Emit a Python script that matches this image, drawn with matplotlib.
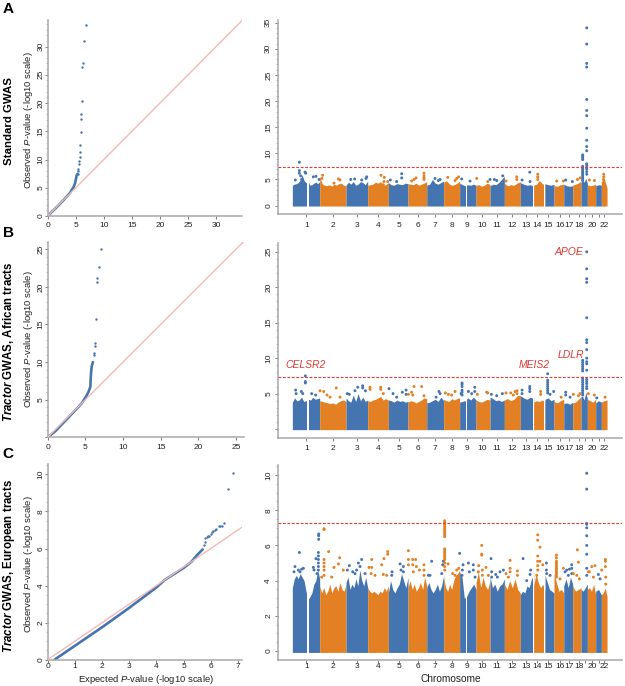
import numpy as np
import matplotlib
matplotlib.use("Agg")
import matplotlib.pyplot as plt

plt.rcParams["font.family"] = ["Liberation Sans", "DejaVu Sans"]
plt.rcParams["mathtext.fontset"] = "custom"
plt.rcParams["mathtext.rm"] = "Liberation Sans"
plt.rcParams["mathtext.it"] = "Liberation Sans:italic"
plt.rcParams["mathtext.bf"] = "Liberation Sans:bold"
plt.rcParams["mathtext.bfit"] = "Liberation Sans:italic:bold"

BLUE = "#4575b0"
ORANGE = "#e38024"
PINK = "#f3b9b2"
RED = "#df3a34"
GREY = "#a8a8a8"
TEXT = "#222222"

W, H = 625, 686

# chromosome layout on the shared x axis (approx. Mb)
chrom_edges = [0, 250, 491, 689, 878, 1058, 1229, 1384, 1530, 1680, 1808, 1939,
               2085, 2207, 2311, 2393, 2482, 2564, 2640, 2698, 2774, 2826, 2878]
chrom_ticks = [128, 369, 594, 786, 976, 1146, 1305, 1460, 1597, 1738, 1872, 2012,
               2134, 2241, 2341, 2445, 2531, 2619, 2677, 2741, 2808, 2854]
chrom_labels = ["1", "2", "3", "4", "5", "6", "7", "8", "9", "10", "11", "12", "13",
                "14", "15", "16", "17", "18", "", "20", "", "22"]
gaps = [(134, 149), (1585, 1600), (2201, 2207), (2305, 2311)]

# QQ curves
qq_a_x = [0, 1, 2, 3, 4, 4.27, 4.6, 4.87, 5.0, 5.16, 5.3]
qq_a_y = [0, 0.98, 1.95, 3.0, 4.1, 4.6, 5.1, 5.8, 6.4, 7.2, 7.45]
qq_a_dx = [5.34, 5.4, 5.46, 5.52, 5.58, 5.7, 5.76, 5.76, 5.87, 5.93, 6.0, 6.05, 6.11, 6.23, 6.47, 6.77]
qq_a_dy = [7.45, 8.0, 8.4, 9.2, 9.75, 10.5, 11.3, 12.5, 14.8, 17.2, 18.1, 20.3, 26.4, 27.1, 30.9, 33.8]

qq_b_x = [0, 1, 2, 3, 4, 4.5, 5.09, 5.4, 5.66, 5.7, 5.75, 5.84, 6.0]
qq_b_y = [0, 0.8, 1.85, 2.9, 3.95, 4.5, 5.4, 6.0, 6.7, 7.6, 8.5, 9.4, 10.0]
qq_b_dx = [6.1, 6.2, 6.28, 6.33, 6.42, 6.5, 6.6, 6.77, 7.08]
qq_b_dy = [11.0, 11.2, 12.2, 12.6, 15.7, 20.7, 21.2, 22.6, 25.0]

qq_c_x = [0.25, 1, 2, 3, 4, 4.3, 5.0, 5.3, 5.5, 5.7]
qq_c_y = [0, 0.75, 1.75, 2.8, 3.9, 4.3, 4.95, 5.3, 5.65, 5.95]
qq_c_dx = [5.75, 5.78, 5.8, 5.85, 5.9, 5.95, 6.0, 6.05, 6.1, 6.15, 6.2, 6.3, 6.35, 6.4, 6.5, 6.65, 6.83]
qq_c_dy = [6.2, 6.35, 6.55, 6.6, 6.65, 6.7, 6.8, 6.88, 6.95, 7.02, 7.05, 7.2, 7.22, 7.22, 7.35, 9.2, 10.1]

# top of the solid part of each chromosome
env_a = [
    [3.9, 4.1, 4.2, 4.4, 4.9, 5.9, 4.8, 4.4, 4.6, 3.9, 4.0, 4.3, 4.5, 4.2, 4.6],
    [5.6, 4.2, 3.9, 3.8, 4.0, 3.7, 4.1, 3.9, 4.2, 4.3, 3.9, 3.8],
    [3.9, 4.5, 4.1, 4.6, 3.9, 4.1, 4.6, 4.4, 4.0, 4.7],
    [3.9, 4.0, 4.1, 4.5, 4.3, 4.6, 3.9, 4.0, 4.4],
    [4.4, 4.0, 3.9, 4.2, 4.1, 4.0, 4.3, 4.2],
    [4.2, 4.1, 4.0, 4.3, 3.9, 4.1, 4.3, 4.6],
    [3.9, 4.1, 5.0, 4.3, 4.1, 4.4, 4.7],
    [4.4, 4.8, 4.2, 3.9, 4.0, 4.3, 4.7],
    [4.3, 4.0, 3.8, 4.0, 3.9, 4.1, 3.9],
    [3.9, 4.0, 3.7, 3.9, 4.3, 4.0],
    [3.8, 4.1, 4.0, 4.4, 5.0, 5.6],
    [4.3, 3.8, 4.0, 3.9, 4.3, 4.6],
    [4.4, 4.1, 3.9, 4.0, 3.7],
    [3.9, 4.1, 4.8, 4.2, 4.0],
    [4.2, 4.0, 3.9, 4.1],
    [3.8, 3.7, 4.0, 4.1],
    [4.1, 3.8, 3.7, 3.8],
    [3.9, 4.1, 4.3, 4.7],
    [4.4, 4.8, 4.5, 5.2, 4.3],
    [4.0, 3.8, 3.9, 4.1],
    [3.8, 4.0, 3.9],
    [4.6, 5.2, 3.4],
]
env_b = [
    [3.8, 4.4, 4.0, 4.1, 4.5, 3.9, 4.0, 4.2, 4.1, 4.5, 4.2, 4.3, 4.4],
    [4.0, 3.9, 3.8, 3.7, 3.6, 3.7, 3.5, 3.8, 4.0, 4.1, 3.9],
    [4.4, 4.0, 3.8, 4.8, 3.9, 5.0, 4.0, 4.5, 3.9, 4.1],
    [4.0, 3.9, 4.1, 4.2, 4.4, 4.6, 4.1, 4.3, 4.1],
    [4.1, 4.0, 3.8, 4.1, 3.9, 4.0, 3.8, 3.9],
    [3.8, 4.0, 3.9, 3.7, 3.9, 4.1, 4.4, 4.3],
    [3.7, 3.8, 4.0, 4.2, 3.9, 4.5, 4.0],
    [4.2, 4.0, 3.9, 4.3, 4.1, 4.3, 4.4],
    [3.8, 3.9, 4.0, 4.4, 4.1, 4.5, 4.1],
    [4.1, 3.9, 3.8, 4.0, 4.2, 4.1],
    [4.5, 4.3, 4.0, 4.1, 3.9, 4.1],
    [4.1, 4.3, 4.0, 4.2, 4.7, 4.8],
    [4.7, 4.4, 4.2, 4.5, 4.3],
    [3.8, 4.0, 3.9, 4.1, 3.9],
    [4.2, 4.4, 4.0, 4.2],
    [3.9, 3.7, 4.0, 4.2],
    [3.6, 3.7, 3.5, 3.8],
    [3.7, 3.8, 4.2, 4.5],
    [4.6, 4.6, 4.1, 5.2, 4.3],
    [4.2, 4.0, 3.8, 4.2],
    [3.7, 4.0, 3.8],
    [3.8, 4.0, 4.1],
]
env_c = [
    [3.6, 4.1, 4.3, 4.1, 4.4, 4.2, 4.0, 3.4, 2.9, 3.1, 3.3, 3.8, 4.0, 4.6, 4.1],
    [3.7, 3.3, 3.6, 3.2, 3.4, 3.8, 3.3, 3.6, 3.7, 3.4, 3.9, 3.5, 3.4, 3.8],
    [3.9, 4.2, 3.5, 3.8, 3.6, 4.1, 3.7, 4.6, 4.0, 3.7, 4.2, 3.6],
    [3.6, 3.4, 3.3, 3.4, 3.3, 3.2, 3.4, 3.3, 3.6, 3.4, 3.7],
    [3.3, 4.0, 3.5, 3.3, 3.6, 3.8, 4.4, 4.0, 3.6, 4.2],
    [3.6, 4.0, 3.5, 3.8, 3.4, 3.6, 3.9, 3.5, 4.2, 3.7],
    [3.6, 3.9, 3.5, 3.3, 3.5, 3.8, 3.4, 3.7, 4.3],
    [4.2, 3.6, 3.4, 3.8, 3.5, 4.0, 4.3, 4.4, 4.6],
    [4.5, 4.2, 3.0, 3.1, 3.4, 3.6, 3.8, 3.5],
    [3.9, 4.5, 3.6, 4.2, 3.7, 3.5, 4.0],
    [4.2, 3.6, 3.8, 3.4, 3.7, 3.8, 4.1],
    [3.8, 3.5, 4.0, 3.6, 4.1, 3.5, 3.3],
    [3.2, 3.4, 3.3, 3.7, 3.6, 4.1, 4.3],
    [3.7, 4.4, 3.9, 3.6, 3.8, 3.4],
    [4.3, 3.9, 3.5, 3.4, 3.3],
    [4.4, 3.9, 3.4, 3.5, 3.3],
    [3.7, 4.1, 3.6, 4.2, 3.8],
    [3.7, 3.4, 3.5, 3.6],
    [3.5, 3.4, 3.6, 3.8],
    [3.5, 3.6, 3.4, 3.8, 3.2],
    [3.4, 3.5, 3.2],
    [3.2, 3.3, 3.6, 3.1],
]

# individual points above the solid part
hits_a_x = [64, 64, 64, 76, 116, 122, 27, 85, 216, 192, 244, 277, 271, 421, 436, 381,
            534, 570, 680, 674, 634, 811, 841, 838, 872, 832, 1000, 1000, 896, 954,
            1131, 1113, 1204, 1204, 1204, 1204, 1091, 1305, 1351, 1335, 1421, 1521,
            1503, 1488, 1549, 1625, 1686, 1808, 1787, 1848, 1869, 1924, 2052, 2052,
            1954, 2171, 2101, 2174, 2244, 2244, 2244, 2418, 2479, 2500, 2561, 2631, 2607,
            2655, 2655, 2655, 2655, 2655, 2655, 2655, 2655, 2655, 2655, 2655, 2655, 2655, 2655,
            2692, 2692, 2692, 2692, 2692, 2692, 2692, 2692, 2692,
            2692, 2692, 2692, 2692, 2692, 2692, 2692, 2692, 2716, 2762, 2848, 2848, 2845]
hits_a_y = [8.3, 6.7, 6.2, 5.7, 6.4, 6.2, 4.9, 5.0, 5.6, 5.5, 5.0, 5.8, 5.2, 5.1, 4.9, 4.3,
            5.0, 5.1, 5.5, 5.2, 4.9, 5.8, 5.4, 4.6, 4.6, 4.0, 6.1, 5.3, 4.9, 4.6,
            5.3, 5.0, 6.2, 5.7, 5.3, 5.0, 4.7, 5.2, 5.0, 4.8, 5.4, 5.5,
            5.2, 4.8, 5.1, 4.7, 5.2, 5.0, 4.6, 5.0, 4.8, 5.7, 5.5, 5.0,
            4.7, 6.4, 4.9, 4.6, 6.0, 5.5, 5.0, 4.7, 4.7, 4.9, 4.6, 5.3, 5.0,
            9.7, 9.4, 9.1, 8.8, 7.5, 7.2, 6.9, 6.6, 6.3, 6.0, 5.7, 5.4, 5.1, 4.8,
            34.0, 30.9, 27.2, 26.5, 20.3, 18.2, 17.2, 14.8, 12.5,
            11.3, 10.5, 8.0, 7.7, 7.3, 7.0, 6.5, 6.0, 4.9, 4.8, 6.0, 5.5, 5.0]

hits_b_x = [119, 119, 119, 30, 82, 34, 95, 177, 253, 213, 287, 402, 317, 345, 436, 598, 643,
            643, 668, 573, 503, 521, 710, 710, 808, 808, 884, 832, 921, 1040, 1006, 1040, 1061,
            954, 1113, 1183, 1091, 1101, 1204, 1341, 1351, 1314, 1488, 1399, 1427, 1543, 1457,
            1552, 1552, 1552, 1552, 1552, 1552, 1610, 1640, 1668, 1668, 1777, 1787, 1692, 1820,
            1921, 1869, 1954, 1997, 2037, 2055, 2055, 2021, 2171, 2171, 2101, 2171, 2101, 2271,
            2271, 2335, 2335, 2335, 2335, 2335, 2335, 2335, 2335, 2390, 2357, 2458, 2500, 2500,
            2540, 2570, 2616, 2631, 2655, 2655, 2655, 2655, 2655, 2655, 2655, 2655, 2655, 2655,
            2655, 2655, 2655, 2655, 2655,
            2692, 2692, 2692, 2692, 2692, 2692, 2692, 2692, 2692, 2692, 2692, 2692, 2692, 2692,
            2692, 2692, 2692, 2707, 2762, 2784, 2860]
hits_b_y = [7.5, 6.7, 6.5, 5.5, 5.3, 5.0, 5.0, 5.0, 5.4, 4.8, 5.3, 5.8, 4.8, 4.5, 4.5, 5.9, 6.1,
            5.8, 5.4, 5.4, 5.0, 4.9, 5.9, 5.6, 5.9, 5.6, 5.7, 5.0, 5.0, 5.5, 5.2, 4.9, 4.9,
            4.5, 6.0, 6.0, 5.2, 4.8, 4.7, 5.3, 5.0, 4.5, 5.3, 5.1, 4.9, 5.0, 4.8,
            6.5, 6.3, 6.0, 5.5, 5.2, 4.8, 5.3, 5.0, 5.9, 5.3, 5.2, 5.1, 4.9, 4.9,
            5.0, 4.7, 5.1, 5.1, 5.3, 5.4, 5.0, 4.8, 6.0, 5.7, 5.5, 5.3, 5.0, 5.3,
            4.9, 7.8, 6.9, 6.6, 6.3, 6.0, 5.7, 5.4, 5.1, 5.3, 4.9, 4.5, 5.2, 4.8,
            4.5, 4.9, 4.7, 5.0, 9.7, 9.4, 9.1, 8.8, 8.5, 8.2, 7.2, 6.9, 6.6, 6.3,
            6.0, 5.7, 5.4, 5.1, 4.8,
            25.0, 22.6, 21.2, 20.7, 15.7, 12.6, 12.2, 11.2, 10.0, 9.5, 9.2, 8.3, 7.0, 6.7,
            6.4, 6.0, 5.7, 5.0, 4.8, 4.4, 4.5]

hits_c_x = [64, 24, 15, 85, 101, 55, 70, 238, 238, 238, 238, 238, 238, 241, 241, 241, 216, 192,
            198, 226, 290, 290, 290, 290, 290, 290, 290, 332, 433, 421, 381, 466, 268, 360,
            634, 521, 604, 619, 588, 503, 552, 665, 573, 726, 701, 726, 838, 817, 872, 872,
            720, 756, 832, 863, 1061, 985, 1015, 912, 994, 1015, 909, 1061, 1061, 1101, 1128,
            1101, 1204, 1204, 1204, 1162, 1134, 1107, 1274, 1381, 1375, 1366, 1244, 1259,
            1393, 1393, 1393, 1393, 1393, 1393, 1393, 1393, 1393, 1393, 1393, 1393, 1393, 1393,
            1393, 1393, 1393, 1393, 1393, 1393, 1424, 1530, 1521, 1503, 1466, 1488,
            1561, 1555, 1552, 1610, 1655, 1655, 1619, 1671, 1732, 1732, 1732, 1704, 1771, 1738,
            1738, 1701, 1793, 1817, 1823, 1823, 1860, 1899, 1930, 1875, 1991, 1991, 1991, 1954,
            2058, 2058, 1976, 2110, 2180, 2174, 2143, 2244, 2244, 2265, 2244, 2244, 2244, 2265,
            2290, 2244, 2235, 2323, 2323, 2357, 2326, 2415, 2415, 2415, 2415, 2415, 2415, 2415,
            2415, 2415, 2415, 2415, 2415, 2448, 2479, 2509, 2534, 2555, 2555, 2494, 2524, 2555,
            2607, 2616, 2570, 2601, 2625, 2692, 2692, 2692, 2692, 2692, 2692, 2692, 2692, 2692,
            2692, 2707, 2738, 2768, 2716, 2753, 2799, 2814, 2863, 2863, 2863, 2829, 2866, 2866]
hits_c_y = [5.6, 4.8, 4.5, 4.65, 4.7, 4.6, 4.5, 5.6, 5.4, 5.2, 5.0, 4.8, 4.6, 6.65, 6.55, 6.35, 5.25, 4.75,
            4.6, 4.4, 6.95, 6.9, 5.2, 5.0, 4.8, 4.6, 4.3, 5.65, 5.3, 4.95, 4.75, 4.6, 4.2, 4.2,
            5.2, 4.85, 5.0, 4.8, 4.6, 4.6, 4.5, 4.4, 4.4, 5.2, 4.75, 4.75, 5.25, 4.9, 5.65, 5.5,
            4.4, 4.3, 4.35, 4.3, 5.7, 4.95, 4.8, 4.5, 4.6, 4.5, 4.3, 5.2, 4.9, 5.2, 5.2,
            4.9, 4.9, 4.6, 4.3, 4.6, 4.8, 4.5, 5.1, 5.1, 4.9, 4.4, 4.3, 4.3,
            7.4, 7.3, 7.2, 7.1, 7.0, 6.9, 6.8, 6.7, 6.6, 6.5, 5.8, 5.7, 5.6, 5.5,
            5.4, 5.3, 5.2, 5.0, 4.8, 4.6, 4.95, 5.55, 4.7, 4.6, 4.4, 4.3,
            4.9, 4.6, 4.3, 5.0, 4.9, 4.6, 4.5, 4.2, 6.0, 5.5, 5.45, 4.85, 4.75, 4.6,
            4.3, 4.5, 4.3, 5.25, 4.5, 4.2, 4.35, 4.5, 4.6, 4.2, 5.15, 4.7, 4.5, 4.4,
            4.55, 4.3, 4.2, 5.25, 4.6, 4.35, 4.0, 6.6, 6.3, 5.9, 5.4, 5.1, 4.85, 5.1,
            4.9, 4.6, 4.3, 5.0, 4.6, 4.3, 4.4, 5.45, 5.3, 5.1, 5.0, 4.9, 4.8, 4.7,
            4.6, 4.5, 4.4, 4.3, 4.2, 4.1, 4.7, 4.6, 4.65, 4.9, 4.7, 4.5, 4.3, 4.4,
            5.75, 5.05, 4.4, 4.3, 4.1, 10.1, 9.2, 7.25, 7.2, 7.0, 6.55, 6.0, 5.5, 4.7,
            4.3, 4.5, 4.8, 4.85, 4.5, 4.2, 4.35, 4.1, 5.2, 5.1, 4.8, 4.6, 4.2, 3.8]

gene_names = ["CELSR2", "MEIS2", "LDLR", "APOE"]
gene_x = [125, 2215, 2550, 2525]
gene_y = [9.0, 9.0, 10.5, 25.0]

threshold = 7.3


def make_axes(fig, left, right, bottom, top):
    # positions given in image pixels, y counted from the top
    return fig.add_axes([left / W, 1 - bottom / H, (right - left) / W, (bottom - top) / H])


def style_axes(ax, xticks, yticks, yminor, ylabels, xpad, ypad):
    for side in ["top", "right"]:
        ax.spines[side].set_visible(False)
    for side in ["left", "bottom"]:
        ax.spines[side].set_color(GREY)
        ax.spines[side].set_linewidth(1.1)
    ax.set_xticks(xticks)
    ax.set_yticks(yticks)
    if ylabels is not None:
        ax.set_yticklabels(ylabels)
    ax.set_yticks(yminor, minor=True)
    ax.tick_params(axis="both", which="major", length=2, width=0.6, color="#666666",
                   labelsize=6, labelcolor=TEXT)
    ax.tick_params(axis="x", which="major", pad=xpad)
    ax.tick_params(axis="y", which="major", pad=ypad)
    ax.tick_params(axis="y", which="minor", length=1.2, width=0.5, color=GREY)
    for lab in ax.get_yticklabels():
        lab.set_rotation(90)
        lab.set_va("center")


def qq_panel(ax, x, y, dx, dy, xmax, ymax, xticks, yticks, yminor, ylabels=None, xpad=2):
    ax.set_xlim(0, xmax)
    ax.set_ylim(0, ymax)
    ax.plot([0, max(xmax, ymax)], [0, max(xmax, ymax)], color=PINK, lw=1.0, zorder=3)
    ax.plot(x, y, color=BLUE, lw=1.9, zorder=2, solid_capstyle="round")
    ax.scatter(dx, dy, s=3, color=BLUE, lw=0, zorder=4)
    style_axes(ax, xticks, yticks, yminor, ylabels, xpad, 0.3)


def manhattan(ax, env, hits_x, hits_y, ylim, yticks, yminor, ylabels=None, xpad=2):
    ax.set_xlim(-134, 3012)
    ax.set_ylim(*ylim)
    for i, tops in enumerate(env):
        col = BLUE if i % 2 == 0 else ORANGE
        xs = np.linspace(chrom_edges[i], chrom_edges[i + 1], len(tops))
        ax.fill_between(xs, -0.08, tops, color=col, lw=0, zorder=1)
    for start, end in gaps:
        ax.axvspan(start, end, color="white", lw=0, zorder=2)
    idx = np.searchsorted(chrom_edges, hits_x, side="right") - 1
    colors = [BLUE if i % 2 == 0 else ORANGE for i in idx]
    ax.scatter(hits_x, hits_y, s=4.5, c=colors, lw=0, zorder=3)
    ax.axhline(threshold, color=RED, lw=0.8, ls=(0, (2.5, 1.5)), zorder=4)
    style_axes(ax, chrom_ticks, yticks, yminor, ylabels, xpad, 2)
    ax.set_xticklabels(chrom_labels)


fig = plt.figure(figsize=(W / 100, H / 100), dpi=100, facecolor="white")

ticks5_a = list(range(0, 36, 5))
ticks5_b = list(range(0, 26, 5))
blank_b = [""] + [str(t) for t in ticks5_b[1:]]
ticks_c = [0, 2, 4, 6, 8, 10]

ax = make_axes(fig, 47.7, 242, 216, 20)
qq_panel(ax, qq_a_x, qq_a_y, qq_a_dx, qq_a_dy, 34.6, 34.7, list(range(0, 31, 5)),
         list(range(0, 31, 5)), list(range(0, 35)), xpad=2)

ax = make_axes(fig, 47.7, 243.5, 437.3, 241.7)
qq_panel(ax, qq_b_x, qq_b_y, qq_b_dx, qq_b_dy, 26.0, 26.0, ticks5_b, ticks5_b,
         list(range(0, 27)), blank_b, xpad=2.5)

ax = make_axes(fig, 47.7, 242.3, 659.7, 464)
qq_panel(ax, qq_c_x, qq_c_y, qq_c_dx, qq_c_dy, 7.16, 10.56, list(range(0, 8)), ticks_c,
         list(np.arange(0, 10.6, 0.5)), xpad=0.5)

ax = make_axes(fig, 277.7, 621.7, 214.3, 20)
manhattan(ax, env_a, hits_a_x, hits_a_y, (-1.66, 35.5), ticks5_a, list(range(0, 36)), xpad=3.5)

ax = make_axes(fig, 277.7, 621.7, 438.3, 243.3)
manhattan(ax, env_b, hits_b_x, hits_b_y, (-1.3, 26.2), ticks5_b, list(range(0, 27)), blank_b, xpad=2.5)
for name, gx, gy in zip(gene_names, gene_x, gene_y):
    ax.text(gx, gy, name, color=RED, style="italic", fontsize=7.5, ha="center", va="center")

ax = make_axes(fig, 277.7, 621.7, 660, 465)
manhattan(ax, env_c, hits_c_x, hits_c_y, (-0.51, 10.57), ticks_c, list(np.arange(0, 10.6, 0.5)), xpad=0.5)


def fig_text(x, y, s, **kw):
    fig.text(x / W, 1 - y / H, s, ha="center", va="center", **kw)


obs = r"Observed $\mathit{P}$-value (-log10 scale)"
fig_text(29, 120, obs, rotation=90, fontsize=6.8, color=TEXT)
fig_text(29, 339, obs, rotation=90, fontsize=6.8, color=TEXT)
fig_text(29, 564, obs, rotation=90, fontsize=6.8, color=TEXT)
fig_text(146, 679, r"Expected $\mathit{P}$-value (-log10 scale)", fontsize=6.8, color=TEXT)
fig_text(451, 679, "Chromosome", fontsize=7.3, color=TEXT)

fig_text(9, 121, "Standard GWAS", rotation=90, fontsize=8.2, fontweight="bold", color="black")
fig_text(9, 342, r"$\mathbfit{Tractor}$ GWAS, African tracts", rotation=90, fontsize=8.3,
         fontweight="bold", color="black")
fig_text(9, 566, r"$\mathbfit{Tractor}$ GWAS, European tracts", rotation=90, fontsize=8.3,
         fontweight="bold", color="black")

fig_text(8, 9, "A", fontsize=11, fontweight="bold", color="black")
fig_text(8, 233, "B", fontsize=11, fontweight="bold", color="black")
fig_text(8, 454, "C", fontsize=11, fontweight="bold", color="black")

fig.savefig("out.png", dpi=100)
